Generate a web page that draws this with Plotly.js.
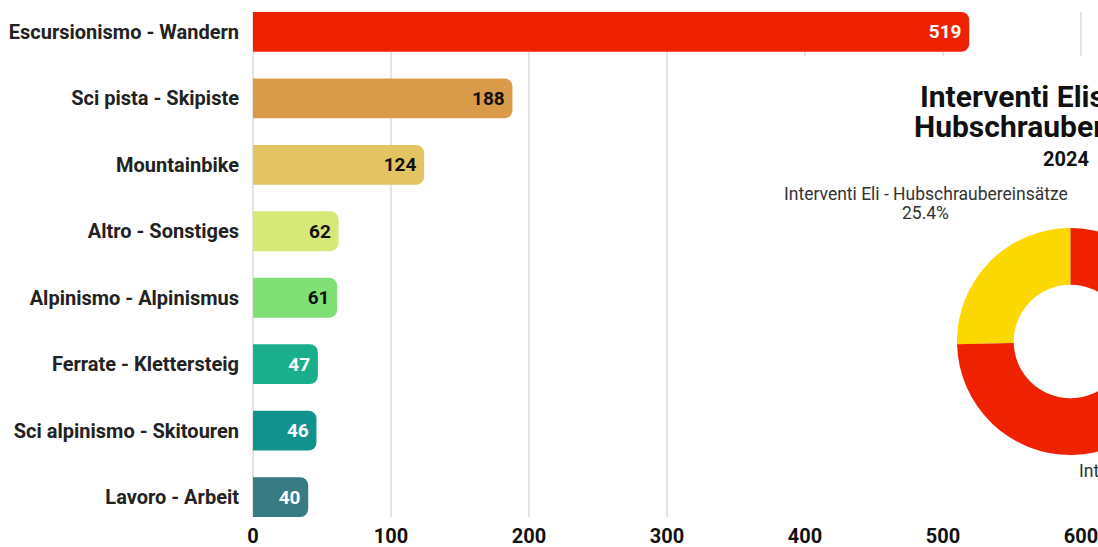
<!DOCTYPE html>
<html><head><meta charset="utf-8">
<script src="https://cdn.plot.ly/plotly-3.0.1.min.js"></script>
<style>
html,body{margin:0;padding:0;overflow:hidden;background:#fff;width:1098px;height:547px}
#chart{width:1400px;height:547px}
</style>
</head><body><div id="chart"></div>
<script>
// ---- data ----
const categories = ["Escursionismo - Wandern","Sci pista - Skipiste","Mountainbike","Altro - Sonstiges","Alpinismo - Alpinismus","Ferrate - Klettersteig","Sci alpinismo - Skitouren","Lavoro - Arbeit"];
const values = [519,188,124,62,61,47,46,40];
const barColors = ["#ee2200","#d99b4a","#e2c462","#d6e878","#80e076","#1aae8c","#12928c","#387a82"];
const labelColors = ["#ffffff","#111111","#111111","#111111","#111111","#ffffff","#ffffff","#ffffff"];
const xTicks = [0,100,200,300,400,500,600];
const pieLabels = ["Interventi Eli - Hubschraubereinsätze","Interventi a terra - Bodeneinsätze"];
const pieValues = [25.4,74.6];
const pieColors = ["#fad800","#ee2200"];
const titleLines = ["Interventi Elisoccorso","Hubschraubereinsätze"];
const titleYear = "2024";

// ---- layout helpers ----
const W = 1400, H = 547, L = 253, T = 12, B = 30, R = 0;
const pw = W - L - R, ph = H - T - B;
const px = v => (v - L) / pw;
const py = v => (H - B - v) / ph;
const FONT = "Roboto, 'Noto Sans', sans-serif";
const pieTotal = pieValues.reduce((a, b) => a + b, 0);

const bar = {
  type: "bar", orientation: "h",
  x: values, y: categories,
  marker: {color: barColors, cornerradius: 8},
  texttemplate: "%{x}\u00a0", textposition: "inside", insidetextanchor: "end",
  textangle: 0, constraintext: "none",
  textfont: {family: FONT, size: 19, weight: 700, color: labelColors},
  hoverinfo: "skip", showlegend: false
};

const pie = {
  type: "pie", labels: pieLabels, values: pieValues,
  hole: 0.5, sort: false, direction: "counterclockwise",
  rotation: -360 * pieValues[0] / pieTotal,
  marker: {colors: pieColors},
  textinfo: "none", hoverinfo: "skip", showlegend: false,
  domain: {x: [px(957), px(1184)], y: [py(455), py(228)]}
};

const pct = v => v.toFixed(1) + "%";
const ann = (text, x, y, size, weight, color, xanchor) => ({
  xref: "paper", yref: "paper", x: px(x), y: py(y), text: text,
  showarrow: false, xanchor: xanchor || "center", yanchor: "middle",
  font: {family: FONT, size: size, weight: weight, color: color}
});

const layout = {
  width: W, height: H,
  margin: {l: L, r: R, t: T, b: B},
  paper_bgcolor: "#ffffff", plot_bgcolor: "#ffffff",
  bargap: 0.4,
  showlegend: false,
  xaxis: {
    domain: [0, 855.6 / pw], range: [0, 620],
    tickvals: xTicks, ticks: "", ticklabelstandoff: 5,
    tickfont: {family: FONT, size: 20, weight: 700, color: "#111"},
    showgrid: true, gridcolor: "#e4e4e4", gridwidth: 1.5,
    zeroline: true, zerolinecolor: "#e4e4e4", zerolinewidth: 1.5,
    showline: false, fixedrange: true
  },
  yaxis: {
    type: "category", categoryorder: "array", categoryarray: categories,
    range: [7.3, -0.3], ticks: "", ticklabelstandoff: 13,
    tickfont: {family: FONT, size: 20, weight: 700, color: "#222"},
    showgrid: false, zeroline: false, showline: false, fixedrange: true
  },
  shapes: [{
    type: "rect", xref: "x", yref: "y", x0: 378, x1: 620, y0: 0.36, y1: 7.3,
    fillcolor: "#ffffff", line: {width: 0}, layer: "between"
  }],
  annotations: [
    ann(titleLines[0], 1066, 96, 30, 700, "#111"),
    ann(titleLines[1], 1066, 127, 30, 700, "#111"),
    ann(titleYear, 1066, 159, 20, 700, "#111"),
    ann(pieLabels[0], 925.5, 194, 17.5, 400, "#333"),
    ann(pct(pieValues[0]), 925.5, 213, 17.5, 400, "#333"),
    ann(pieLabels[1], 1077, 471, 17.5, 400, "#333", "left"),
    ann(pct(pieValues[1]), 1210, 490, 17.5, 400, "#333")
  ]
};

Plotly.newPlot("chart", [bar, pie], layout, {displayModeBar: false, staticPlot: true});
</script>
</body></html>
